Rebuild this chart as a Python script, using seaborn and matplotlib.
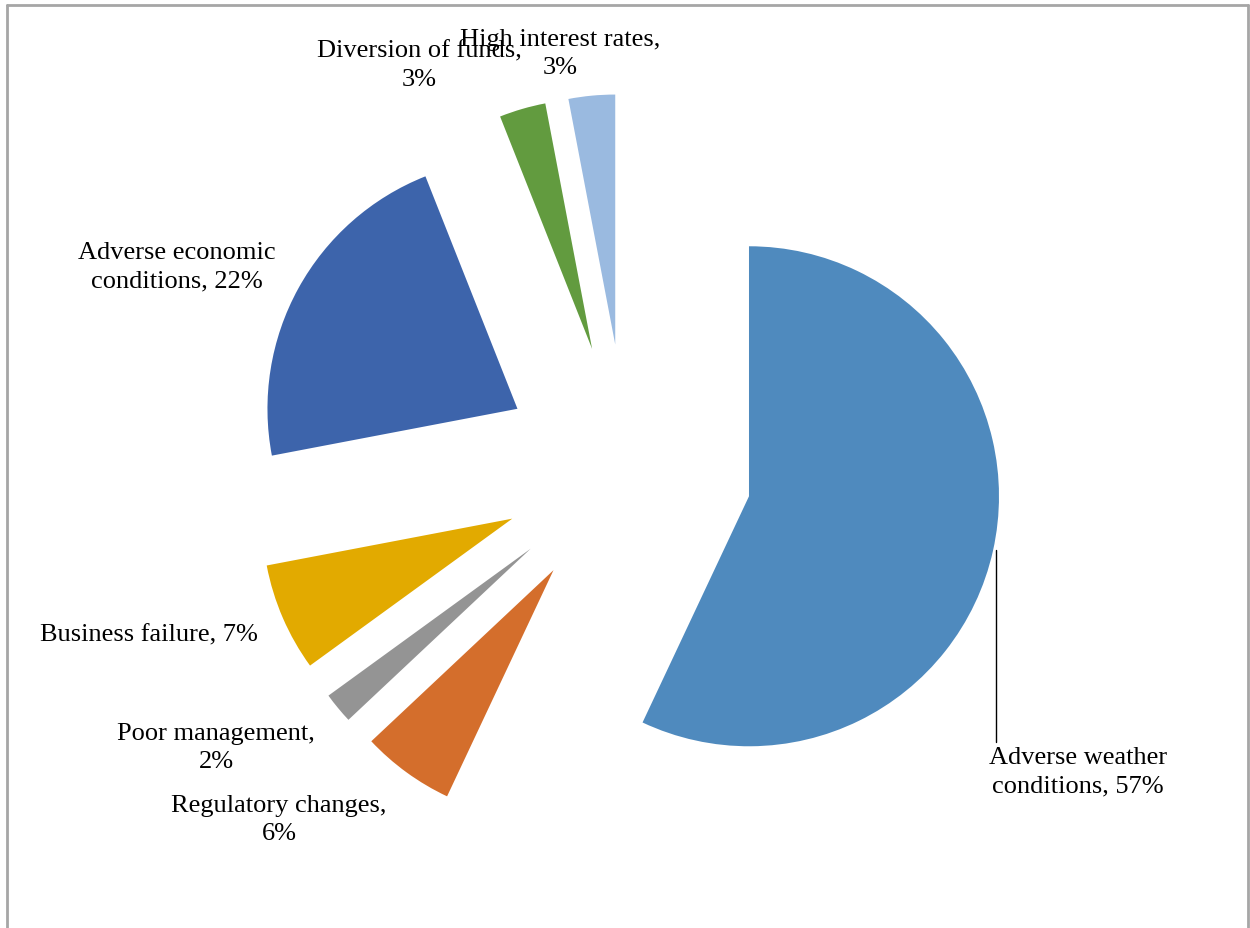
import matplotlib
matplotlib.use("Agg")
import matplotlib.pyplot as plt
import seaborn as sns
from matplotlib.lines import Line2D

# Causes of loan default, share of respondents (%)
causes = [
    "Adverse weather\nconditions",
    "Regulatory changes,\n",
    "Poor management,\n",
    "Business failure",
    "Adverse economic\nconditions",
    "Diversion of funds,\n",
    "High interest rates,\n",
]
shares = [57, 6, 2, 7, 22, 3, 3]
colors = ["#4F8ABE", "#D46E2C", "#949494", "#E2AA00", "#3D64AB", "#629B3F", "#9ABAE0"]

sns.set_style("white")
plt.rcParams["font.family"] = ["Liberation Serif", "DejaVu Serif"]

W, H = 1250, 929
fig = plt.figure(figsize=(W / 100, H / 100), dpi=100)
ax = fig.add_axes([0, 0, 1, 1])

# pie centre and radius in pixels
CX, CY, R = 627, 470, 250


def to_data(x, y):
    return (x - CX) / R, (CY - y) / R


ax.pie(
    shares,
    colors=colors,
    startangle=90,
    counterclock=False,
    explode=[0.5] * len(shares),
    radius=1.0,
    wedgeprops=dict(linewidth=0),
)
ax.set_xlim((0 - CX) / R, (W - CX) / R)
ax.set_ylim((CY - H) / R, CY / R)
ax.set_aspect("equal")
ax.axis("off")

# data labels: "name, value%"
label_pos = [
    (1078, 772),
    (279, 820),
    (216, 748),
    (149, 635),
    (177, 267),
    (419, 66),
    (560, 54),
]
for name, val, (px, py) in zip(causes, shares, label_pos):
    if name.endswith("\n"):
        text = f"{name}{val}%"
    else:
        text = f"{name}, {val}%"
    x, y = to_data(px, py)
    ax.text(x, y, text, ha="center", va="center", multialignment="center",
            fontsize=19, color="black", linespacing=1.4)

# leader line for the largest slice
x0, y0 = to_data(996, 551)
x1, y1 = to_data(996, 743)
ax.plot([x0, x1], [y0, y1], color="black", linewidth=1.0)

# chart frame
frame = dict(color="#A6A6A6", linewidth=2.0, transform=fig.transFigure)
fig.add_artist(Line2D([7 / W, 1248 / W], [1 - 6 / H, 1 - 6 / H], **frame))
fig.add_artist(Line2D([7 / W, 7 / W], [0, 1 - 6 / H], **frame))
fig.add_artist(Line2D([1248 / W, 1248 / W], [0, 1 - 6 / H], **frame))

fig.savefig("out.png", dpi=100)
